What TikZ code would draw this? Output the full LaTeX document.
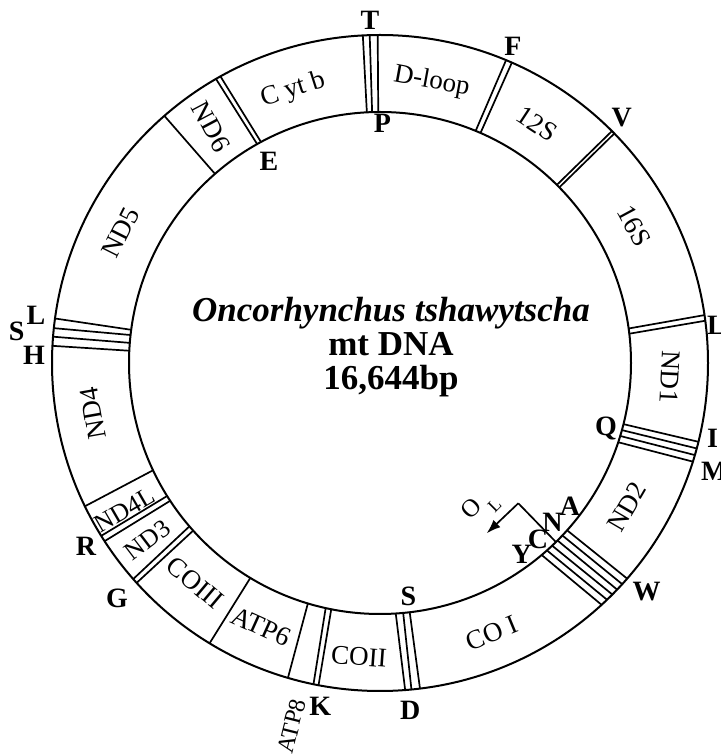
\documentclass[tikz,border=0pt]{standalone}
\usepackage{fontspec}
\setmainfont{Liberation Serif}
\usetikzlibrary{arrows.meta}
\begin{document}
\begin{tikzpicture}[x=1pt,y=1pt,
  ring/.style={line width=2pt},
  seg/.style={line width=1.7pt},
  lab/.style={font=\fontsize{28}{28}\selectfont\bfseries, inner sep=0pt},
  gene/.style={font=\fontsize{27}{27}\selectfont, inner sep=0pt},
  small/.style={font=\fontsize{25.5}{25.5}\selectfont, inner sep=0pt},
  title/.style={font=\fontsize{35}{35}\selectfont\bfseries, inner sep=0pt, anchor=base}]
\useasboundingbox (0,0) rectangle (721,756);
\coordinate (C) at (380,393);
\draw[ring] (C) circle[radius=328];
\draw[ring] (C) circle[radius=251];
% gene boundaries and tRNA strips (inner angle / outer angle)
\foreach \i/\o in {93.0/93.0, 91.8/91.8, 90.4/90.4,
  67.6/67.4, 66.4/66.3,
  45.2/45.0, 44.4/44.4,
  7.9/8.4, 6.7/7.4,
  -14.1/-13.9, -15.5/-15.1, -16.9/-16.3, -18.4/-17.5,
  -41.8/-41.1, -43.4/-42.4, -45.0/-43.7, -46.7/-44.9, -48.3/-46.2, -49.9/-47.5,
  -86.4/-85.6, -84.7/-84.5, -83.2/-83.0,
  -102.5/-101.7, -101.2/-100.8,
  -106.7/-106.3,
  -121.1/-121.3,
  -139.4/-138.8, -138.1/-137.9,
  -148.0/-148.2, -146.7/-147.1,
  -154.7/-154.1,
  172.4/172.2, 173.6/173.9, 175.4/175.4, 177.2/177.0,
  131.1/131.1,
  119.3/120.0, 118.3/119.1}
  \draw[seg,shift={(380,393)}] (\i:251) -- (\o:328);
% centre title
\node[title] (t1) at (391,434) {\itshape Oncorhynchus tshawytscha};
\node[title] (t2) at (391,400) {mt DNA};
\node[title] (t3) at (391,366.4) {16,644bp};
% gene labels
\node[gene, rotate=17.7] (cytb) at (293,666) {C yt b};
\node[gene, rotate=-10.4] (dloop) at (431.7,674.3) {D-loop};
\node[gene, rotate=-33.3] (s12) at (537,632) {12S};
\node[gene, rotate=-61.7] (s16) at (634,530) {16S};
\node[gene, rotate=-92.7] (nd1) at (670,379.3) {ND1};
\node[gene, rotate=59.8] (nd2) at (626.7,249.3) {ND2};
\node[gene, rotate=22.5] (co1) at (491.7,123) {CO I};
\node[gene, rotate=-4.1] (co2) at (359,99.3) {COII};
\node[gene, rotate=-24.3] (atp6) at (261,129.3) {ATP6};
\node[gene, rotate=-40.1] (co3) at (195,173) {COIII};
\node[small, rotate=37.3] (nd3) at (147.5,216) {ND3};
\node[small, rotate=30] (nd4l) at (125,246) {ND4L};
\node[gene, rotate=100] (nd4) at (93,342.6) {ND4};
\node[gene, rotate=63.3] (nd5) at (120.7,523.4) {ND5};
\node[gene, rotate=-62] (nd6) at (211,629.3) {ND6};
\node[gene, rotate=76, font=\fontsize{24}{24}\selectfont] (atp8) at (291.7,30) {ATP8};
% tRNA labels
\node[lab] (lT) at (370,736) {T};
\node[lab] (lP) at (382.5,633) {P};
\node[lab] (lF) at (513,709.3) {F};
\node[lab] (lV) at (621.7,638.5) {V};
\node[lab, anchor=west] (lL1) at (707,431) {L};
\node[lab] (lI) at (712.5,317.7) {I};
\node[lab] (lQ) at (606,327) {Q};
\node[lab, anchor=west] (lM) at (701,284.3) {M};
\node[lab] (lA) at (570,249.3) {A};
\node[lab] (lN) at (552.5,233.5) {N};
\node[lab] (lC) at (538,217) {C};
\node[lab] (lY) at (521.7,202) {Y};
\node[lab] (lW) at (646.7,164.3) {W};
\node[lab] (lS1) at (408.3,159.3) {S};
\node[lab] (lD) at (410.3,45.2) {D};
\node[lab] (lK) at (320.3,49.3) {K};
\node[lab] (lG) at (117,158) {G};
\node[lab] (lR) at (86,209.3) {R};
\node[lab] (lS2) at (16.7,424.3) {S};
\node[lab] (lL2) at (36,440.2) {L};
\node[lab] (lH) at (34,400.2) {H};
\node[lab] (lE) at (269,594.3) {E};
% origin of L-strand replication
\coordinate (olb) at (555.9,214);
\coordinate (olc) at (518.3,252.7);
\coordinate (olt) at (486.7,222.7);
\draw[seg] (olb) -- (olc);
\draw[seg, -{Latex[length=14pt,width=10pt]}] (olc) -- (olt);
\node[gene, rotate=45, font=\fontsize{25}{25}\selectfont] (olO) at (471.5,248) {O};
\node[gene, rotate=45, font=\fontsize{18}{18}\selectfont] (olL) at (494.5,251) {L};
\end{tikzpicture}
\end{document}
